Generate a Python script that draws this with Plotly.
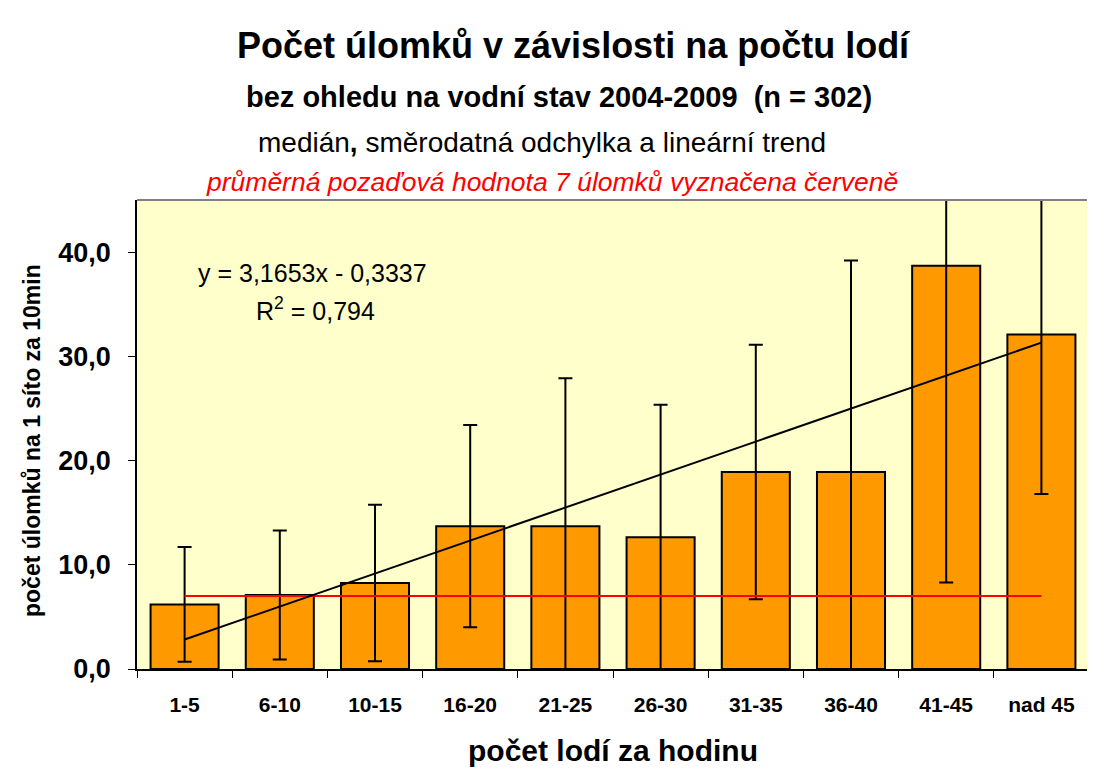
import plotly.graph_objects as go

categories = ["1-5", "6-10", "10-15", "16-20", "21-25", "26-30", "31-35", "36-40", "41-45", "nad 45"]
medians = [6.2, 7.1, 8.25, 13.7, 13.7, 12.65, 18.9, 18.9, 38.7, 32.1]
std_dev = [5.5, 6.2, 7.5, 9.7, 14.2, 12.7, 12.2, 20.3, 30.4, 15.3]
background_value = 7
trend_slope = 3.1653
trend_intercept = -0.3337
r_squared = "0,794"
y_ticks = [0, 10, 20, 30, 40]

FONT = "Liberation Sans, Arial, sans-serif"

# plot area in page pixels (page has an 8px body margin)
PL, PR, PT, PB = 137, 1089, 200, 669

trend_x = [categories[0], categories[-1]]
trend_y = [trend_slope * 1 + trend_intercept, trend_slope * len(categories) + trend_intercept]

fig = go.Figure()
fig.add_trace(go.Bar(
    x=categories, y=medians, width=0.715,
    marker=dict(color="#FF9900", line=dict(color="black", width=2)),
    error_y=dict(type="data", array=std_dev, symmetric=True, color="black", thickness=2, width=7),
    showlegend=False, hoverinfo="x+y",
))
fig.add_trace(go.Scatter(
    x=[categories[0], categories[-1]], y=[background_value, background_value],
    mode="lines", line=dict(color="red", width=2), showlegend=False,
))
fig.add_trace(go.Scatter(
    x=trend_x, y=trend_y, mode="lines", line=dict(color="black", width=2), showlegend=False,
))

W, H = 1087, 761
fig.update_layout(
    width=W, height=H,
    margin=dict(l=PL - 8, r=W + 8 - PR, t=PT - 8, b=H + 8 - PB),
    paper_bgcolor="white", plot_bgcolor="#FFFFCC",
    separators=", ",
    font=dict(family=FONT, color="black"),
    xaxis=dict(
        type="category", tickson="boundaries", ticks="outside", ticklen=7, tickcolor="black",
        showline=True, linecolor="black", linewidth=1.5, showgrid=False,
        tickfont=dict(size=21, family=FONT, color="black", weight="bold"),
        ticklabelstandoff=16,
        title=dict(text="počet lodí za hodinu", font=dict(size=30, family=FONT, weight="bold"), standoff=25),
    ),
    yaxis=dict(
        range=[0, 45], tickvals=y_ticks, tickformat=".1f", ticks="outside", ticklen=7, tickcolor="black",
        showline=True, linecolor="black", linewidth=1.5, showgrid=False, zeroline=False,
        tickfont=dict(size=27, family=FONT, color="black", weight="bold"),
        ticklabelstandoff=12,
    ),
)

# gray border top & right
fig.add_shape(type="line", xref="paper", yref="paper", x0=0, x1=1, y0=1, y1=1, line=dict(color="#808080", width=2))
fig.add_shape(type="line", xref="paper", yref="paper", x0=1, x1=1, y0=0, y1=1, line=dict(color="#808080", width=2))

def px_x(x):
    return (x - PL) / (PR - PL)

def px_y(y):
    return (PB - y) / (PB - PT)

texts = [
    ("Počet úlomků v závislosti na počtu lodí", 573, 45, 36, "bold", "normal", "black"),
    ("bez ohledu na vodní stav 2004-2009  (n = 302)", 559, 97, 29, "bold", "normal", "black"),
    ("medián<b>,</b> směrodatná odchylka a lineární trend", 542, 142, 28, "normal", "normal", "black"),
    ("průměrná pozaďová hodnota 7 úlomků vyznačena červeně", 552, 182, 26.5, "normal", "italic", "red"),
]
for t, xpx, ypx, sz, w, st, col in texts:
    fig.add_annotation(
        text=t, xref="paper", yref="paper", x=px_x(xpx), y=px_y(ypx),
        showarrow=False, xanchor="center", yanchor="middle",
        font=dict(size=sz, family=FONT, color=col, weight=w, style=st),
    )

# y axis title
fig.add_annotation(
    text="počet úlomků na 1 síto za 10min", xref="paper", yref="paper",
    x=px_x(32), y=px_y(441), textangle=-90, showarrow=False, xanchor="center", yanchor="middle",
    font=dict(size=23, family=FONT, color="black", weight="bold"),
)

fig.add_annotation(
    text="y = 3,1653x - 0,3337", xref="paper", yref="paper",
    x=px_x(312), y=px_y(273), showarrow=False, xanchor="center", yanchor="middle",
    font=dict(size=25, family=FONT, color="black"),
)
fig.add_annotation(
    text="R<sup>2</sup> = " + r_squared, xref="paper", yref="paper",
    x=px_x(315), y=px_y(309), showarrow=False, xanchor="center", yanchor="middle",
    font=dict(size=25, family=FONT, color="black"),
)

fig.write_html("out.html")
